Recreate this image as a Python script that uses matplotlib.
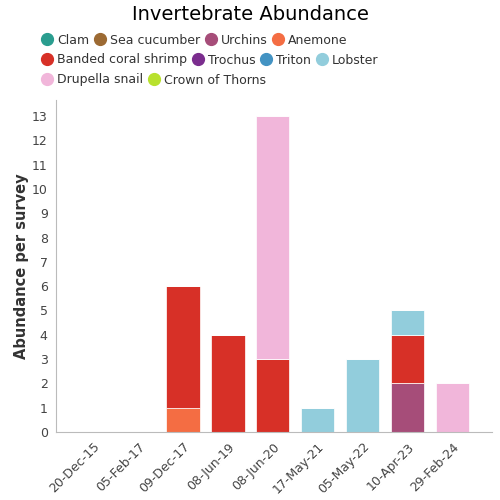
import numpy as np
import matplotlib.pyplot as plt
from matplotlib.lines import Line2D

dates = ['20-Dec-15', '05-Feb-17', '09-Dec-17', '08-Jun-19', '08-Jun-20',
         '17-May-21', '05-May-22', '10-Apr-23', '29-Feb-24']

species = ['Clam', 'Sea cucumber', 'Urchins', 'Anemone', 'Banded coral shrimp',
           'Trochus', 'Triton', 'Lobster', 'Drupella snail', 'Crown of Thorns']
colors = ['#2a9d8f', '#9c6a33', '#a64d79', '#f46d43', '#d73027',
          '#7b2d8e', '#4393c3', '#92cddc', '#f1b6da', '#b8e12e']

clam = [0, 0, 0, 0, 0, 0, 0, 0, 0]
sea_cucumber = [0, 0, 0, 0, 0, 0, 0, 0, 0]
urchins = [0, 0, 0, 0, 0, 0, 0, 2, 0]
anemone = [0, 0, 1, 0, 0, 0, 0, 0, 0]
banded_shrimp = [0, 0, 5, 4, 3, 0, 0, 2, 0]
trochus = [0, 0, 0, 0, 0, 0, 0, 0, 0]
triton = [0, 0, 0, 0, 0, 0, 0, 0, 0]
lobster = [0, 0, 0, 0, 0, 1, 3, 1, 0]
drupella = [0, 0, 0, 0, 10, 0, 0, 0, 2]
crown_of_thorns = [0, 0, 0, 0, 0, 0, 0, 0, 0]

series = [clam, sea_cucumber, urchins, anemone, banded_shrimp,
          trochus, triton, lobster, drupella, crown_of_thorns]

fig = plt.figure(figsize=(5, 5), dpi=100)
ax = fig.add_axes([0.112, 0.136, 0.872, 0.664])

x = np.arange(len(dates))
bottom = np.zeros(len(dates))
for vals, col in zip(series, colors):
    vals = np.array(vals, dtype=float)
    ax.bar(x, vals, bottom=bottom, width=0.74, color=col,
           edgecolor='white', linewidth=0.5)
    bottom += vals

ax.set_xlim(-0.83, 8.88)
ax.set_ylim(0, 13.66)
ax.set_yticks(range(14))
ax.set_xticks(x)
ax.set_xticklabels(dates, rotation=45, ha='right', rotation_mode='anchor')
ax.tick_params(axis='both', length=0, labelsize=9, colors='#444444', pad=6)
for s in ['top', 'right']:
    ax.spines[s].set_visible(False)
for s in ['left', 'bottom']:
    ax.spines[s].set_color('#bbbbbb')
ax.set_ylabel('Abundance per survey', fontsize=10.5, fontweight='bold',
              color='#333333', labelpad=2)

fig.text(0.5, 0.972, 'Invertebrate Abundance', ha='center', va='center',
         fontsize=14, color='black')

# legend in three rows, like flowing text
rows = [species[0:4], species[4:8], species[8:10]]
row_y = [0.92, 0.88, 0.84]
for names, yy in zip(rows, row_y):
    handles = [Line2D([], [], marker='o', linestyle='', markersize=8.5,
                      color=colors[species.index(n)]) for n in names]
    leg = fig.legend(handles, names, loc='center left', bbox_to_anchor=(0.082, yy),
                     ncol=len(names), frameon=False, fontsize=9,
                     handletextpad=0.3, columnspacing=0.35, handlelength=1.0,
                     borderaxespad=0, borderpad=0)
    for t in leg.get_texts():
        t.set_color('#333333')

fig.savefig('out.png', dpi=100)
